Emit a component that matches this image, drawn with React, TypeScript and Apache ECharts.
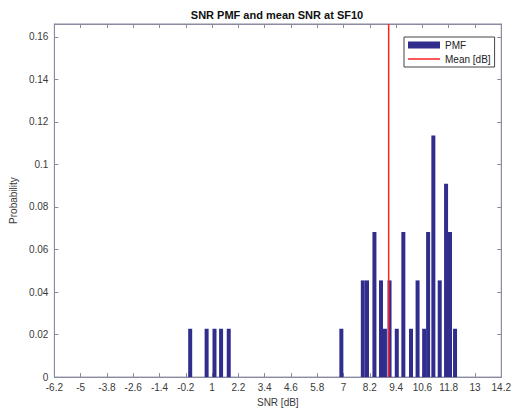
import React, { useEffect, useRef } from "react";
import * as echarts from "echarts";

const snrValues = [0.0, 0.75, 1.11, 1.41, 1.76, 6.9, 7.88, 8.07, 8.41, 8.71, 8.89, 9.1, 9.43, 9.73, 10.08, 10.38, 10.68, 10.86, 11.1, 11.39, 11.68, 11.86, 12.09];
const counts = [1, 1, 1, 1, 1, 1, 2, 2, 3, 2, 1, 2, 1, 3, 1, 2, 1, 3, 5, 2, 4, 3, 1];
const totalSamples = 44;
const meanSnr = 9.06;
const yTop = 0.166;
const titleText = "SNR PMF and mean SNR at SF10";

export default function App() {
  const ref = useRef<HTMLDivElement>(null);
  useEffect(() => {
    if (!ref.current) return;
    const chart = echarts.init(ref.current, null, { renderer: "svg" });
    const font = "Liberation Sans, Arial, Helvetica, sans-serif";
    const axisColor = "#8a8aa0";
    const labelColor = "#3a3a3a";
    const pmf = snrValues.map((v, i) => [v, counts[i] / totalSamples]);
    const fmtX = (v: number) => String(+v.toFixed(1));
    const fmtY = (v: number) => {
      const r = Math.round(v / 0.02);
      if (Math.abs(r * 0.02 - v) > 1e-6) return "";
      return String(+v.toFixed(2));
    };
    const lineAxis = { show: true, onZero: false, lineStyle: { color: axisColor } };
    const tick = { show: true, inside: true, length: 4, lineStyle: { color: axisColor } };
    chart.setOption({
      animation: false,
      textStyle: { fontFamily: font },
      title: {
        text: titleText,
        left: 277,
        textAlign: "center",
        top: 9,
        padding: 0,
        textStyle: { fontSize: 11, fontWeight: "bold", color: "#111", fontFamily: font },
      },
      grid: { left: 52, right: 10, top: 24, bottom: 32, show: true, borderColor: axisColor, borderWidth: 1, backgroundColor: "#fff" },
      legend: {
        orient: "vertical",
        left: 404,
        top: 37,
        padding: [3, 4, 3, 4],
        itemGap: 4,
        itemWidth: 32,
        itemHeight: 7,
        symbolKeepAspect: true,
        borderColor: "#444",
        borderWidth: 1,
        backgroundColor: "#fff",
        textStyle: { fontSize: 10, color: "#222", fontFamily: font },
        data: [
          { name: "PMF", icon: "rect" },
          { name: "Mean [dB]", icon: "path://M0 0H64V3H0Z" },
        ],
      },
      xAxis: [
        {
          type: "value",
          min: -6.2,
          max: 14.2,
          interval: 1.2,
          name: "SNR [dB]",
          nameLocation: "middle",
          nameGap: 17,
          nameTextStyle: { fontSize: 10, color: labelColor, fontFamily: font },
          axisLine: lineAxis,
          axisTick: tick,
          axisLabel: { fontSize: 10, color: labelColor, margin: 5, formatter: fmtX, fontFamily: font },
          splitLine: { show: false },
        },
        {
          type: "value",
          position: "top",
          min: -6.2,
          max: 14.2,
          interval: 1.2,
          axisLine: lineAxis,
          axisTick: tick,
          axisLabel: { show: false },
          splitLine: { show: false },
        },
      ],
      yAxis: [
        {
          type: "value",
          min: 0,
          max: yTop,
          interval: 0.02,
          name: "Probability",
          nameLocation: "middle",
          nameGap: 27,
          nameTextStyle: { fontSize: 10, color: labelColor, fontFamily: font },
          axisLine: lineAxis,
          axisTick: tick,
          axisLabel: { fontSize: 10, color: labelColor, margin: 6, formatter: fmtY, fontFamily: font },
          splitLine: { show: false },
        },
        {
          type: "value",
          position: "right",
          min: 0,
          max: yTop,
          interval: 0.02,
          axisLine: lineAxis,
          axisTick: tick,
          axisLabel: { show: false },
          splitLine: { show: false },
        },
      ],
      series: [
        {
          name: "PMF",
          type: "bar",
          xAxisIndex: 0,
          yAxisIndex: 0,
          barWidth: 4,
          itemStyle: { color: "#302d8d" },
          data: pmf,
        },
        {
          name: "Mean [dB]",
          type: "line",
          xAxisIndex: 0,
          yAxisIndex: 0,
          symbol: "none",
          lineStyle: { color: "#ff2020", width: 1.5 },
          itemStyle: { color: "#ff2020" },
          data: [
            [meanSnr, 0],
            [meanSnr, yTop],
          ],
        },
      ],
    });
    return () => chart.dispose();
  }, []);
  return <div ref={ref} style={{ width: 514, height: 412, position: "absolute", left: 0, top: 0, background: "#fff" }} />;
}
